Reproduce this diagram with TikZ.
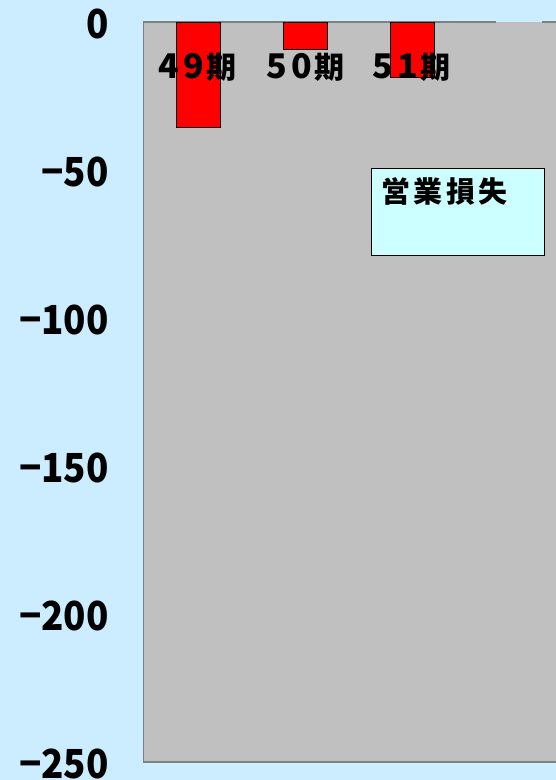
\documentclass[tikz,border=0pt]{standalone}
\usepackage{fontspec}
\usepackage{tikz}
\newfontfamily\jpfont{Noto Sans CJK JP}
\newfontfamily\legfont{Noto Sans CJK JP}[LetterSpace=12]
\definecolor{bgblue}{RGB}{204,236,255}
\definecolor{plotgray}{RGB}{192,192,192}
\definecolor{edgegray}{RGB}{128,128,128}
\definecolor{legcyan}{RGB}{204,255,255}
% digit in a full-width cell
\newcommand\fwd[1]{\makebox[25pt]{\fontsize{34}{34}\selectfont #1}}
\tikzset{
    %Define style for bars
    bar/.style={
           rectangle,
           fill=red,
           draw=black, line width=1pt,
           minimum width=44,
           inner sep=0pt,
           anchor=north},
    %Define style for axis and period labels
    ytick/.style={
           font=\jpfont\bfseries\fontsize{40}{40}\selectfont,
           xscale=0.92,
           inner sep=0pt,
           anchor=base east},
    period/.style={
           font=\jpfont\bfseries\fontsize{30}{30}\selectfont,
           inner sep=0pt},
    % Define legend style
    legbox/.style={
           rectangle,
           fill=legcyan,
           draw=black, line width=1pt,
           minimum width=173,
           minimum height=87,
           anchor=north west}
}
\begin{document}
\begin{tikzpicture}[x=1pt, y=-1pt]
    % BACKGROUND
    \fill[bgblue] (0,0) rectangle (556,780);
    \useasboundingbox (0,0) rectangle (556,780);

    % PLOT AREA
    \fill[plotgray] (143.5,22) rectangle (570,762);
    \draw[edgegray, line width=1.5pt] (570,762) -- (143.5,762) -- (143.5,22) -- (496,22);
    \draw[edgegray, line width=1.5pt] (542,22) -- (570,22);

    % Y AXIS
    \foreach \i/\t in {0/0, 1/−50, 2/−100, 3/−150, 4/−200, 5/−250}
        \node[ytick] (y\i) at (109,38+148*\i) {\t};

    % BARS
    \node[bar, minimum height=105] at (198,22) (b49) {};
    \node[bar, minimum height=27] at (305.5,22) (b50) {};
    \node[bar, minimum height=55] at (412,22) (b51) {};

    \node[period] at (196.5,67) (l49) {\fwd{4}\fwd{9}期};
    \node[period] at (304,67) (l50) {\fwd{5}\fwd{0}期};
    \node[period] at (410,67) (l51) {\fwd{5}\fwd{1}期};

    % LEGEND
    \node[legbox] at (371,167.5) (leg) {};
    \node[anchor=west, inner sep=0pt, font=\legfont\bfseries\fontsize{29}{29}\selectfont]
        at (381,191) (legtxt) {営業損失};
\end{tikzpicture}
\end{document}
